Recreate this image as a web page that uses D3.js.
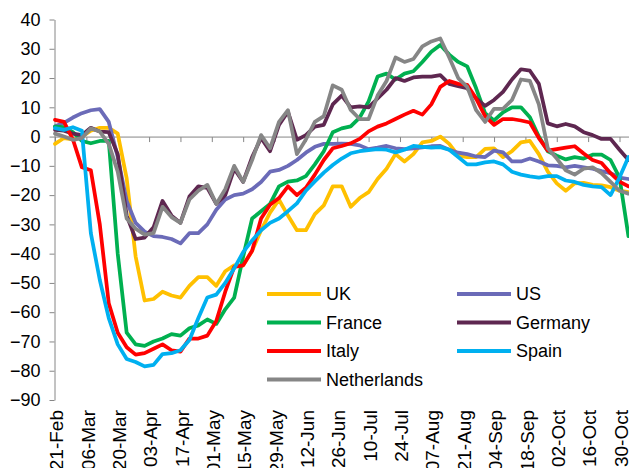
<!DOCTYPE html>
<html>
<head>
<meta charset="utf-8">
<script src="https://cdn.jsdelivr.net/npm/d3@7"></script>
<style>
  body { margin: 0; background: #fff; }
  svg text { font-family: "Liberation Sans", Arial, sans-serif; fill: #000; }
</style>
</head>
<body>
<div id="chart"></div>
<script>
  // 4-day samples starting 21-Feb-2020
  const startDate = "21-Feb";
  const stepDays = 4;
  const tickLabels = ["21-Feb","06-Mar","20-Mar","03-Apr","17-Apr","01-May","15-May","29-May","12-Jun","26-Jun",
    "10-Jul","24-Jul","07-Aug","21-Aug","04-Sep","18-Sep","02-Oct","16-Oct","30-Oct"];
  const yTicks = [40, 30, 20, 10, 0, -10, -20, -30, -40, -50, -60, -70, -80, -90];

  const seriesNames = ["UK", "US", "France", "Germany", "Italy", "Spain", "Netherlands"];
  const seriesColors = ["#FFC000", "#6B6BB8", "#00B050", "#5E2750", "#FF0000", "#00B0F0", "#868686"];

  const uk = [-2.5,-0.5,-1,0,2,3,3,1,-14.3,-41,-56,-55.5,-53,-54.3,-55,-51,-48,-48,-51,-46,-44,-44,-39,-32,-26,-21.6,
    -27,-32,-32,-26.5,-23.5,-17,-17,-24,-21,-19,-14.5,-11,-6,-8.5,-6,-2,-1.5,0,-2.5,-6.5,-7,-7,-4.2,-4,-7,-5,-2,-1.5,
    -6,-12,-16,-18.5,-16,-15.8,-16.5,-16.7,-17.3,-18.5,-19];
  const us = [3.5,4.7,6.5,8,9,9.4,5,-7,-22,-29.5,-32.5,-34,-34.3,-35,-36.5,-33,-33,-30,-25,-21.5,-20,-19.5,-18,-15.5,
    -12,-11.4,-10,-8,-5.5,-3.5,-2.5,-2.5,-2.4,-2.5,-3,-4.3,-3.8,-3.2,-4,-4.3,-4,-3.7,-3.3,-3.2,-4.5,-5.5,-6,-6.8,-7,
    -4.8,-5.4,-8.5,-8.5,-7.5,-8.5,-9.8,-10,-10.5,-10,-10.5,-11,-11.8,-12.5,-14,-14.5];
  const france = [3.4,3.2,1.5,-1.5,-2.3,-1.5,-1.5,-40,-67,-71,-71.5,-70,-69,-67.5,-68,-65.5,-64.5,-62.5,-64,-59,-55,
    -41,-28,-25.5,-23,-17,-15.4,-15,-13.5,-9.5,-5,1.5,2.8,3.5,6.5,12,20.5,21.5,19.5,21.5,22.3,25.5,29,31.3,28,25.5,
    24,16.5,8,5.5,8.3,10,10,6.6,0,-5,-6.5,-7.8,-7,-7.5,-6.2,-6.2,-8,-14,-34];
  const germany = [2.3,2,1,0.5,3,1.7,1.5,-6,-27,-35,-34.5,-31,-22,-27,-29.5,-20.5,-17,-17.5,-23,-20,-11,-15.5,-7,-0.5,
    -5,4,8.5,-1.1,0.5,3.4,4,11,14,10,10.3,10,13,16,20,19,20.2,20.5,20.5,21,18,17.2,16.5,13,10.5,12.5,15.3,19.5,23,
    22.5,18,4.5,3.5,4.3,3.5,1.5,0.5,-0.8,-0.8,-4.5,-8];
  const italy = [5.7,5,-1,-10.5,-11.5,-30,-57,-67,-72,-74.5,-74,-72.5,-71,-73,-73.5,-69,-69,-68,-63,-53,-44.5,-44,-39,
    -28,-23.3,-21,-17,-20,-17.5,-13,-8,-4,-3.2,-2.3,-0.8,1.8,3.4,4.5,6,7.5,8.8,7.5,11,17,19,18,17.7,13,7,4,6,6,5.5,
    4.8,-0.5,-4.8,-4.3,-3.8,-3.3,-5.8,-8,-9,-12.5,-15.4,-17];
  const spain = [2.9,2.3,3.2,2,-33,-49,-62,-71,-76,-77,-78.5,-78,-74.3,-74,-73,-69.5,-62,-55,-54,-50,-45,-39.5,-35.5,
    -32,-29.5,-28,-25.5,-22.8,-18.5,-15.3,-12.3,-9.7,-7.5,-5.7,-5,-4.6,-4.3,-4.5,-5.4,-4.5,-3.2,-3.5,-3.8,-3.6,-4.5,
    -7,-9.5,-9.5,-8.8,-8.5,-9.5,-12,-13,-13.6,-14,-13.5,-13.5,-15,-15.5,-16.5,-17,-17.3,-20,-14,-7];
  const netherlands = [1,0,-1.1,-0.5,2.8,1.7,-2.5,-12,-28,-31.5,-33.5,-33,-24,-27.5,-29.5,-21.5,-18.5,-16.5,-23,-18,
    -10,-15.5,-8,0.5,-4,5,9,-6,-1,5,7,17.5,16,9.1,6,6,14,19,27,25.5,26.5,30.8,32.5,33.5,27,20,17,9,5,9.5,9.5,12.5,
    19.5,19,11,-4,-7.5,-11.5,-13,-11,-10.5,-12.5,-15.5,-18.5,-19.5];

  const seriesValues = [uk, us, france, germany, italy, spain, netherlands];

  const width = 629, height = 468;
  const parse = d3.utcParse("%d-%b-%Y");
  const t0 = parse(startDate + "-2020");
  const dates = uk.map((_, i) => d3.utcDay.offset(t0, i * stepDays));
  const tickDates = tickLabels.map(s => parse(s + "-2020"));

  const x = d3.scaleUtc()
    .domain([t0, tickDates[tickDates.length - 1]])
    .range([55, 619.5]);
  const y = d3.scaleLinear().domain([-90, 40]).range([400, 19.5]);

  const svg = d3.select("#chart")
    .append("svg")
    .attr("width", width)
    .attr("height", height);

  // y axis
  const yAxis = svg.append("g")
    .attr("transform", "translate(54.5,0)")
    .call(d3.axisLeft(y).tickValues(yTicks).tickSize(5).tickSizeOuter(0).tickPadding(9));
  yAxis.select(".domain").attr("stroke", "#868686");
  yAxis.selectAll(".tick line").attr("stroke", "#868686");
  yAxis.selectAll(".tick text").style("font-size", "18px").attr("fill", "#000");

  // horizontal axis line at zero with tick marks
  const xAxis = svg.append("g")
    .attr("transform", `translate(0,${y(0) + 0.5})`)
    .call(d3.axisBottom(x).tickValues(tickDates).tickSize(5).tickSizeOuter(0).tickFormat(""));
  xAxis.select(".domain").attr("stroke", "#868686").attr("d", `M54.5,0H${width}`);
  xAxis.selectAll(".tick line").attr("stroke", "#868686");

  // rotated date labels at the bottom
  const xLabels = svg.append("g")
    .attr("transform", "translate(1,410)")
    .call(d3.axisBottom(x).tickValues(tickDates).tickSize(0).tickFormat((d, i) => tickLabels[i]));
  xLabels.select(".domain").remove();
  xLabels.selectAll(".tick text")
    .style("font-size", "19px")
    .attr("fill", "#000")
    .attr("transform", "rotate(-90)")
    .attr("text-anchor", "end")
    .attr("x", 0)
    .attr("y", 0)
    .attr("dy", "0.35em");

  // lines
  const line = d3.line()
    .x((d, i) => x(dates[i]))
    .y(d => y(d));

  seriesValues.forEach((vals, k) => {
    svg.append("path")
      .datum(vals)
      .attr("fill", "none")
      .attr("stroke", seriesColors[k])
      .attr("stroke-width", 3.75)
      .attr("stroke-linejoin", "round")
      .attr("stroke-linecap", "round")
      .attr("d", line);
  });

  // legend, two columns
  const legend = svg.append("g");
  seriesNames.forEach((name, k) => {
    const col = k % 2, row = Math.floor(k / 2);
    const lx = col === 0 ? 267 : 457;
    const ly = 294 + row * 28.5;
    legend.append("line")
      .attr("x1", lx).attr("x2", lx + 54)
      .attr("y1", ly).attr("y2", ly)
      .attr("stroke", seriesColors[k])
      .attr("stroke-width", 4);
    legend.append("text")
      .attr("x", lx + 59)
      .attr("y", ly)
      .attr("dy", "0.36em")
      .style("font-size", "18px")
      .text(name);
  });
</script>
</body>
</html>
